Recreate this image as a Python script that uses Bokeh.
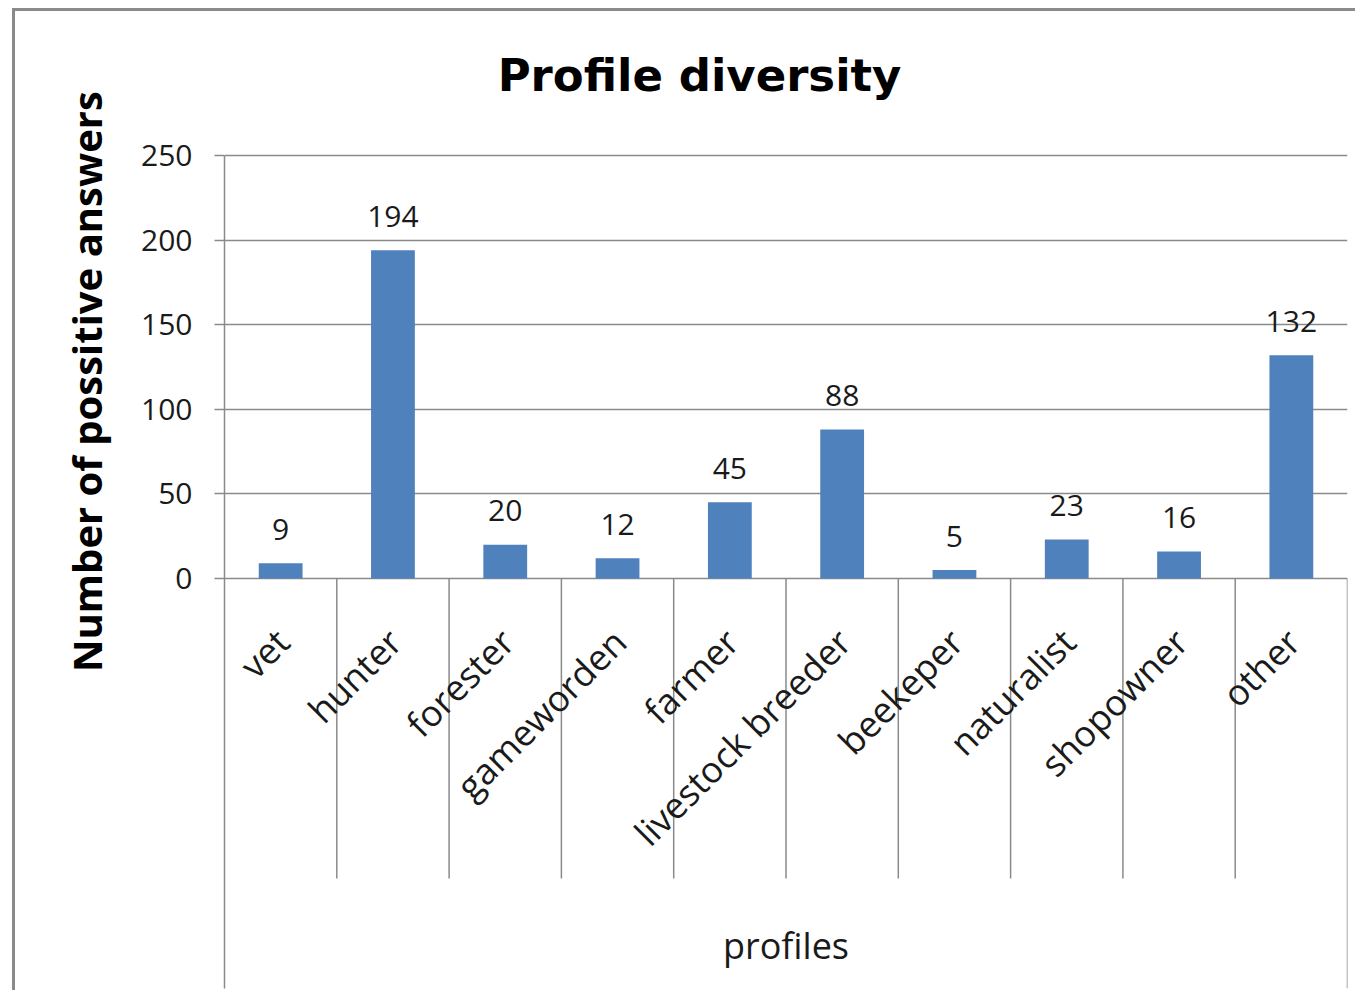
from math import pi
from bokeh.plotting import figure
from bokeh.models import Range1d, FactorRange, FixedTicker, Label, ColumnDataSource, Title
from bokeh.layouts import column
from bokeh.core.properties import value
from bokeh.embed import file_html
from bokeh.resources import INLINE

# ---- data ----
categories = ["vet", "hunter", "forester", "gameworden", "farmer",
              "livestock breeder", "beekeper", "naturalist", "shopowner", "other"]
answers = [9, 194, 20, 12, 45, 88, 5, 23, 16, 132]
y_ticks = [0, 50, 100, 150, 200, 250]
title_text = "Profile diversity"
y_title = "Number of possitive answers"
x_title = "profiles"

# ---- style ----
GRID = "#8a8a8a"
BAR = "#4f81bd"
TXT = "#1a1a1a"
Y_MIN, Y_TOP, Y_MAX = -242.3, 250, 335.1
SEP_DEPTH = -177.3
CAT_LABEL_Y = -33.6
VAL_GAP = 20

p = figure(width=1340, height=979, output_backend="svg", toolbar_location=None,
           title=None,
           x_range=FactorRange(*categories, range_padding=0),
           y_range=Range1d(Y_MIN, Y_MAX), x_axis_location=None,
           min_border_left=209, min_border_right=8, min_border_top=0, min_border_bottom=2,
           background_fill_color="white", border_fill_color="white")
p.outline_line_color = None
p.xgrid.visible = False
p.ygrid.ticker = FixedTicker(ticks=y_ticks)
p.ygrid.grid_line_color = GRID
p.ygrid.grid_line_width = 1.5

ax = p.yaxis[0]
ax.ticker = FixedTicker(ticks=y_ticks)
ax.bounds = (Y_MIN, Y_TOP)
ax.axis_line_color = GRID
ax.axis_line_width = 1.5
ax.major_tick_line_color = GRID
ax.major_tick_line_width = 1.5
ax.major_tick_out = 10
ax.major_tick_in = 0
ax.minor_tick_line_color = None
ax.major_label_standoff = 22
ax.major_label_text_font = "Open Sans"
ax.major_label_text_font_size = "30px"
ax.major_label_text_color = TXT

src = ColumnDataSource(dict(cat=categories, val=answers,
                            lab=[str(v) for v in answers],
                            laby=[v + VAL_GAP for v in answers],
                            caty=[CAT_LABEL_Y] * len(categories)))

p.vbar(x="cat", top="val", bottom=0, width=0.39, source=src,
       fill_color=BAR, line_color=None)

# category separators
inner = [[c, -0.5] for c in categories[1:]]
p.segment(x0=inner, y0=[0] * len(inner), x1=inner, y1=[SEP_DEPTH] * len(inner),
          line_color=GRID, line_width=1.5)
edge = [[categories[-1], 0.5]]
p.segment(x0=edge, y0=[0], x1=edge, y1=[Y_MIN], line_color=GRID, line_width=1.5)

# value labels
p.text(x="cat", y="laby", text="lab", source=src, text_align="center",
       text_baseline="alphabetic", text_font=value("Open Sans"),
       text_font_size="30px", text_color=TXT)

# category labels
p.text(x="cat", y="caty", text="cat", source=src, angle=pi / 4, x_offset=2,
       text_align="right", text_baseline="middle", text_font=value("Open Sans"),
       text_font_size="36px", text_color=TXT)

# chart title (inside the tall frame, above the value area)
p.add_layout(Label(x=4.23, y=297.0, text=title_text, text_align="center",
                   text_baseline="alphabetic", text_font="DejaVu Sans",
                   text_font_style="bold", text_font_size="45px", text_color="black"))
# x axis title
p.add_layout(Label(x=5.0, y=-216.8, text=x_title, text_align="center",
                   text_baseline="alphabetic", text_font="Open Sans",
                   text_font_size="36px", text_color=TXT))
# y axis title, in the left panel
p.add_layout(Title(text=y_title, align="left", offset=316.5, vertical_align="bottom",
                   standoff=50, text_font="Open Sans", text_font_style="bold",
                   text_font_size="40px", text_color="black"), "left")

layout = column(p, styles={"margin-left": "12px", "margin-top": "8px",
                           "border-left": "3px solid #8a8a8a",
                           "border-top": "3px solid #8a8a8a"})

open("out.html", "w").write(file_html(layout, INLINE))
